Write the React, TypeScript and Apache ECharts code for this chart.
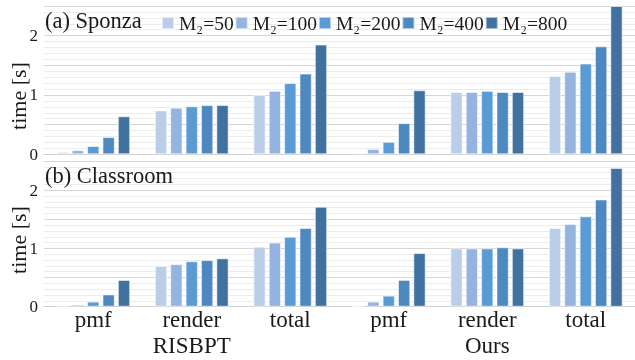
import React, { useEffect, useRef } from "react";
import * as echarts from "echarts";

const groups = ["RISBPT", "Ours"];
const metrics = ["pmf", "render", "total"];
const seriesNames = ["M₂=50", "M₂=100", "M₂=200", "M₂=400", "M₂=800"];
const panelTitles = ["(a) Sponza", "(b) Classroom"];
const yTickLabels = [0, 1, 2];
const yMax = 2.5;

// order: RISBPT pmf, render, total, Ours pmf, render, total
const sponza50 = [0.04, 0.74, 1.0, 0.02, 1.05, 1.32];
const sponza100 = [0.07, 0.785, 1.07, 0.09, 1.05, 1.39];
const sponza200 = [0.14, 0.81, 1.2, 0.21, 1.07, 1.53];
const sponza400 = [0.29, 0.83, 1.36, 0.525, 1.05, 1.82];
const sponza800 = [0.64, 0.83, 1.85, 1.08, 1.05, 2.5];

const classroom50 = [0.02, 0.7, 1.03, 0.012, 1.0, 1.35];
const classroom100 = [0.035, 0.73, 1.1, 0.087, 1.0, 1.42];
const classroom200 = [0.087, 0.78, 1.2, 0.19, 1.0, 1.55];
const classroom400 = [0.21, 0.8, 1.35, 0.46, 1.02, 1.84];
const classroom800 = [0.46, 0.83, 1.715, 0.92, 1.0, 2.38];

const colors = ["#bacee9", "#94b3de", "#5b9bd5", "#4d89c0", "#41729f"];

const FONT = "'Liberation Serif', 'DejaVu Serif', serif";
const TEXT = "#1a1a1a";

export default function App() {
  const ref = useRef<HTMLDivElement>(null);
  useEffect(() => {
    if (!ref.current) return;
    const chart = echarts.init(ref.current, undefined, { renderer: "svg" });
    const panels = [
      [sponza50, sponza100, sponza200, sponza400, sponza800],
      [classroom50, classroom100, classroom200, classroom400, classroom800],
    ];
    const catIds: string[] = [];
    groups.forEach((g) => metrics.forEach((m) => catIds.push(g + "|" + m)));

    const grids = [
      { left: 44, top: 6, width: 597, height: 148.3 },
      { left: 44, top: 161, width: 597, height: 145.7 },
    ];

    const xAxes = grids.map((_, gi) => ({
      type: "category" as const,
      gridIndex: gi,
      data: catIds,
      axisTick: { show: false },
      axisLine: { show: true, lineStyle: { color: "#d0d0d0", width: 1 } },
      axisLabel: {
        show: gi === 1,
        interval: 0,
        margin: 0,
        fontFamily: FONT,
        fontSize: 23,
        lineHeight: 26,
        color: TEXT,
        formatter: (v: string) => {
          const [g, m] = v.split("|");
          return m === "render" ? m + "\n" + g : m;
        },
      },
    }));

    const yAxes = grids.map((_, gi) => ({
      type: "value" as const,
      gridIndex: gi,
      min: 0,
      max: yMax,
      interval: 0.5,
      axisLine: { show: false },
      axisTick: { show: false },
      axisLabel: {
        margin: 6,
        fontFamily: FONT,
        fontSize: 17,
        color: TEXT,
        formatter: (v: number) => (yTickLabels.indexOf(v) >= 0 ? String(v) : ""),
      },
      splitLine: { show: true, lineStyle: { color: "#d6d6d6", width: 1 } },
      minorTick: { show: false, splitNumber: 5 },
      minorSplitLine: { show: true, lineStyle: { color: "#ececec", width: 1 } },
    }));

    const series: any[] = [];
    panels.forEach((panel, gi) => {
      panel.forEach((vals, si) => {
        series.push({
          type: "bar",
          name: seriesNames[si],
          xAxisIndex: gi,
          yAxisIndex: gi,
          data: vals,
          barWidth: 12.3,
          barGap: "25%",
          itemStyle: {
            color: colors[si],
            borderColor: "rgba(255,255,255,0.55)",
            borderWidth: 1,
          },
        });
      });
    });

    const graphic: any[] = [
      {
        type: "text",
        left: 45,
        top: 9,
        z: 10,
        style: { text: panelTitles[0], font: `22.5px ${FONT}`, fill: TEXT },
      },
      {
        type: "text",
        left: 45,
        top: 164,
        z: 10,
        style: { text: panelTitles[1], font: `22.5px ${FONT}`, fill: TEXT },
      },
      {
        type: "text",
        x: 18,
        y: 96,
        rotation: Math.PI / 2,
        z: 10,
        style: {
          text: "time [s]",
          font: `22px ${FONT}`,
          fill: TEXT,
          textAlign: "center",
          textVerticalAlign: "middle",
        },
      },
      {
        type: "text",
        x: 18,
        y: 240,
        rotation: Math.PI / 2,
        z: 10,
        style: {
          text: "time [s]",
          font: `22px ${FONT}`,
          fill: TEXT,
          textAlign: "center",
          textVerticalAlign: "middle",
        },
      },
    ];

    chart.setOption({
      animation: false,
      color: colors,
      grid: grids,
      xAxis: xAxes,
      yAxis: yAxes,
      legend: {
        data: seriesNames,
        left: 161,
        top: 13,
        itemWidth: 12,
        itemHeight: 12,
        itemGap: 1,
        padding: 0,
        icon: "rect",
        textStyle: { fontFamily: FONT, fontSize: 19.5, color: TEXT },
      },
      graphic,
      series,
    });
    return () => chart.dispose();
  }, []);
  return (
    <div
      ref={ref}
      style={{ position: "fixed", left: 0, top: 0, width: 635, height: 360 }}
    />
  );
}
